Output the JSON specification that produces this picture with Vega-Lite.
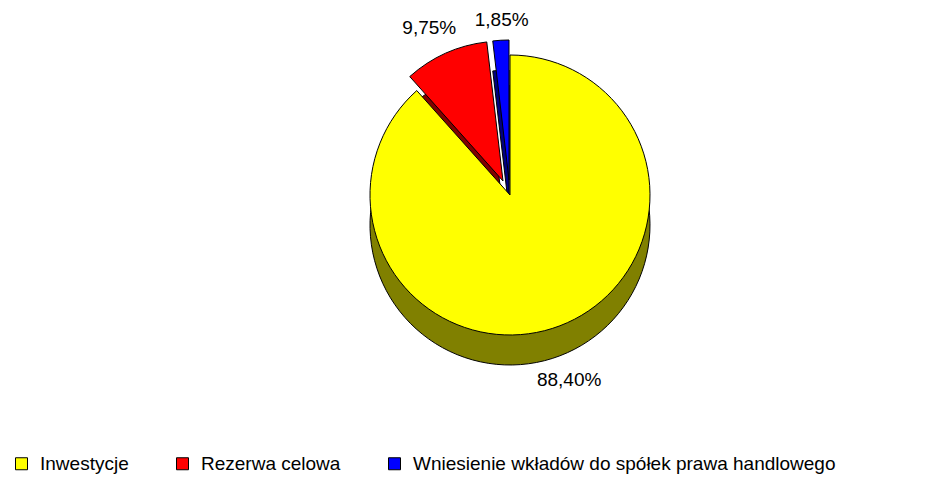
{
  "$schema": "https://vega.github.io/schema/vega-lite/v6.json",
  "width": 934,
  "height": 398,
  "padding": {"left": 12, "top": 0, "right": 0, "bottom": 0},
  "background": "#ffffff",
  "config": {
    "view": {"stroke": null},
    "font": "Liberation Sans",
    "locale": {"number": {"decimal": ",", "thousands": "\u00a0", "grouping": [3], "currency": ["", " zł"]}},
    "legend": {
      "orient": "bottom",
      "direction": "horizontal",
      "offset": 56,
      "symbolType": "square",
      "symbolSize": 144,
      "symbolStrokeColor": "#000000",
      "symbolStrokeWidth": 1,
      "labelFont": "Liberation Sans",
      "labelFontSize": 19,
      "labelColor": "#000000",
      "labelLimit": 700,
      "columnPadding": 44,
      "labelOffset": 9
    }
  },
  "data": {
    "values": [
      {"category": "Inwestycje", "share": 0.884, "order": 1},
      {"category": "Rezerwa celowa", "share": 0.0975, "order": 2},
      {"category": "Wniesienie wkładów do spółek prawa handlowego", "share": 0.0185, "order": 3}
    ]
  },
  "encoding": {
    "theta": {"field": "share", "type": "quantitative", "stack": true},
    "order": {"field": "order", "type": "quantitative"}
  },
  "layer": [
    {
      "mark": {"type": "arc", "outerRadius": 140, "fill": "#800000", "stroke": "#000000", "strokeWidth": 1, "xOffset": 24, "yOffset": 12},
      "encoding": {"opacity": {"condition": {"test": "datum.order === 2", "value": 1}, "value": 0}}
    },
    {
      "mark": {"type": "arc", "outerRadius": 140, "fill": "#000080", "stroke": "#000000", "strokeWidth": 1, "xOffset": 30, "yOffset": 11},
      "encoding": {"opacity": {"condition": {"test": "datum.order === 3", "value": 1}, "value": 0}}
    },
    {
      "mark": {"type": "arc", "outerRadius": 140, "stroke": "#000000", "strokeWidth": 1, "xOffset": 24, "yOffset": -18},
      "encoding": {
        "color": {"field": "category", "type": "nominal", "scale": {"domain": ["Inwestycje", "Rezerwa celowa", "Wniesienie wkładów do spółek prawa handlowego"], "range": ["#FFFF00", "#FF0000", "#0000FF"]}, "title": null},
        "opacity": {"condition": {"test": "datum.order === 2", "value": 1}, "value": 0}
      }
    },
    {
      "mark": {"type": "arc", "outerRadius": 140, "stroke": "#000000", "strokeWidth": 1, "xOffset": 30, "yOffset": -19},
      "encoding": {
        "color": {"field": "category", "type": "nominal", "title": null},
        "opacity": {"condition": {"test": "datum.order === 3", "value": 1}, "value": 0}
      }
    },
    {
      "mark": {"type": "arc", "outerRadius": 140, "fill": "#808000", "stroke": "#000000", "strokeWidth": 1, "xOffset": 31, "yOffset": 26},
      "encoding": {"opacity": {"condition": {"test": "datum.order === 1", "value": 1}, "value": 0}}
    },
    {
      "mark": {"type": "arc", "outerRadius": 140, "stroke": "#000000", "strokeWidth": 1, "xOffset": 31, "yOffset": -4},
      "encoding": {
        "color": {"field": "category", "type": "nominal", "title": null},
        "opacity": {"condition": {"test": "datum.order === 1", "value": 1}, "value": 0}
      }
    },
    {
      "mark": {"type": "text", "radius": 166, "font": "Liberation Sans", "fontSize": 19, "color": "#000000", "xOffset": 31, "yOffset": 26},
      "encoding": {
        "text": {"field": "share", "type": "quantitative", "format": ".2%"},
        "opacity": {"condition": {"test": "datum.order === 1", "value": 1}, "value": 0}
      }
    },
    {
      "mark": {"type": "text", "radius": 170, "font": "Liberation Sans", "fontSize": 19, "color": "#000000", "xOffset": 20, "yOffset": -16},
      "encoding": {
        "text": {"field": "share", "type": "quantitative", "format": ".2%"},
        "opacity": {"condition": {"test": "datum.order === 2", "value": 1}, "value": 0}
      }
    },
    {
      "mark": {"type": "text", "radius": 160, "font": "Liberation Sans", "fontSize": 19, "color": "#000000", "xOffset": 32, "yOffset": -19},
      "encoding": {
        "text": {"field": "share", "type": "quantitative", "format": ".2%"},
        "opacity": {"condition": {"test": "datum.order === 3", "value": 1}, "value": 0}
      }
    }
  ]
}
